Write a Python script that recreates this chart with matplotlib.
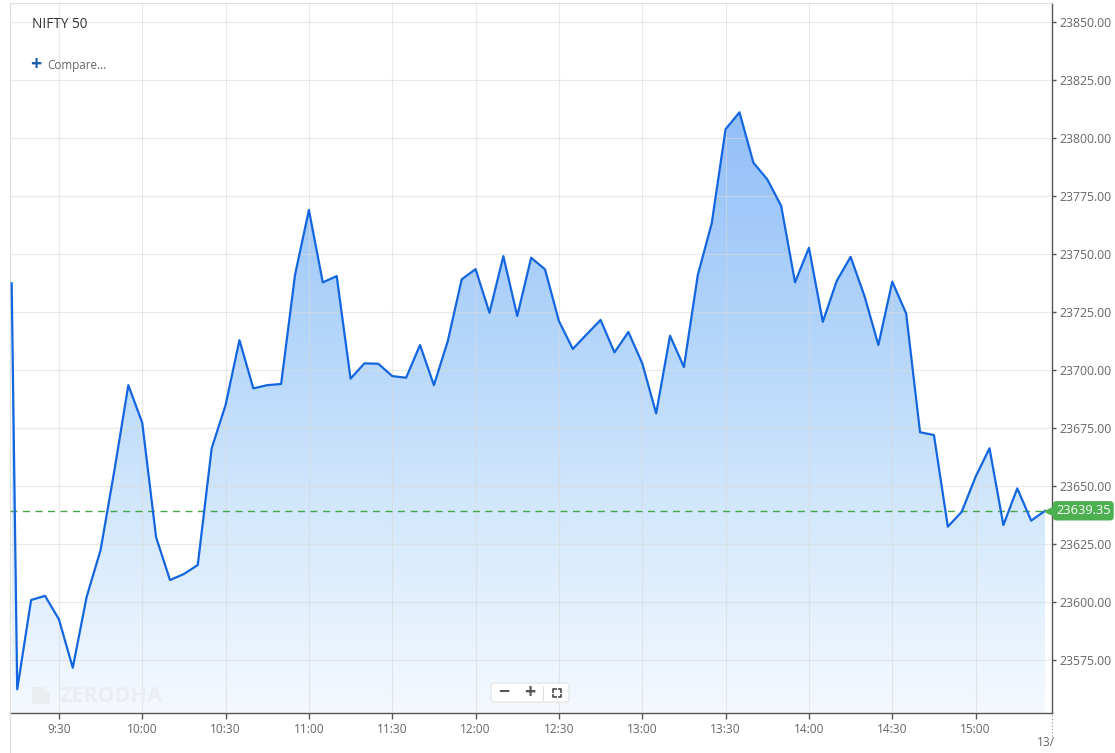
import numpy as np
import matplotlib.pyplot as plt
from matplotlib.colors import LinearSegmentedColormap
from matplotlib.patches import FancyBboxPatch, Polygon
from matplotlib.lines import Line2D
from matplotlib.transforms import blended_transform_factory

plt.rcParams['font.family'] = ['Open Sans', 'DejaVu Sans']

# 5 minute prices of NIFTY 50 (first point is the pre-open print)
times = ['9:13', '9:15', '9:20', '9:25', '9:30', '9:35', '9:40', '9:45', '9:50', '9:55',
         '10:00', '10:05', '10:10', '10:15', '10:20', '10:25', '10:30', '10:35', '10:40', '10:45',
         '10:50', '10:55', '11:00', '11:05', '11:10', '11:15', '11:20', '11:25', '11:30', '11:35',
         '11:40', '11:45', '11:50', '11:55', '12:00', '12:05', '12:10', '12:15', '12:20', '12:25',
         '12:30', '12:35', '12:40', '12:45', '12:50', '12:55', '13:00', '13:05', '13:10', '13:15',
         '13:20', '13:25', '13:30', '13:35', '13:40', '13:45', '13:50', '13:55', '14:00', '14:05',
         '14:10', '14:15', '14:20', '14:25', '14:30', '14:35', '14:40', '14:45', '14:50', '14:55',
         '15:00', '15:05', '15:10', '15:15', '15:20', '15:25']
prices = [23737.4, 23562.4, 23600.9, 23602.7, 23592.6, 23571.7, 23602.3, 23622.4, 23656.9, 23693.5,
          23677.3, 23627.9, 23609.5, 23612.1, 23616.0, 23666.3, 23684.9, 23712.9, 23692.1, 23693.5,
          23694.0, 23741.0, 23769.0, 23737.8, 23740.5, 23696.3, 23702.9, 23702.7, 23697.4, 23696.7,
          23710.8, 23693.5, 23712.5, 23739.1, 23743.5, 23724.7, 23749.1, 23723.3, 23748.4, 23743.4,
          23721.1, 23709.1, 23715.4, 23721.6, 23707.6, 23716.4, 23702.9, 23681.3, 23714.8, 23701.3,
          23741.0, 23763.2, 23803.8, 23811.1, 23789.4, 23782.2, 23770.8, 23737.8, 23752.7, 23720.8,
          23738.4, 23748.8, 23731.9, 23710.8, 23738.1, 23724.4, 23673.2, 23672.0, 23632.5, 23638.9,
          23654.0, 23666.3, 23633.2, 23649.0, 23635.1, 23639.35]
last_price = 23639.35

x_ticks = ['9:30', '10:00', '10:30', '11:00', '11:30', '12:00', '12:30',
           '13:00', '13:30', '14:00', '14:30', '15:00']
y_ticks = [23575, 23600, 23625, 23650, 23675, 23700, 23725, 23750, 23775, 23800, 23825, 23850]


def to_min(t):
    h, m = t.split(':')
    return int(h) * 60 + int(m)


x = np.array([to_min(t) for t in times])
y = np.array(prices)

W, H = 1115, 753
fig = plt.figure(figsize=(W / 100, H / 100), dpi=100)
ax = fig.add_axes([10 / W, 40 / H, 1042 / W, 710 / H])
ymin, ymax = 23552.2, 23858.2
ax.set_xlim(552.4, 927.5)
ax.set_ylim(ymin, ymax)

# gradient fill under the line
fill = ax.fill_between(x, y, ymin, color='none', lw=0)
cmap = LinearSegmentedColormap.from_list('g', ['#f5f9ff', '#d3e8fc', '#b0d3fa', '#93bff8'])
grad = np.linspace(0, 1, 256).reshape(-1, 1)
im = ax.imshow(grad, extent=[x[0], x[-1], ymin, y.max()], origin='lower',
               aspect='auto', cmap=cmap, zorder=1)
im.set_clip_path(fill.get_paths()[0], transform=ax.transData)

ax.plot(x, y, color='#1366e0', lw=1.6, zorder=4)

# last price line and tag
ax.axhline(last_price, color='#43a843', lw=1.0, ls=(0, (5, 4)), zorder=3)
bt = blended_transform_factory(ax.transAxes, ax.transData)
ax.plot([1.0], [last_price], marker='<', ms=13, color='#4caf50', mec='none',
        transform=bt, clip_on=False, zorder=5)
ax.annotate(f'{last_price:.2f}', xy=(1.0, last_price), xycoords=bt,
            xytext=(4, 0), textcoords='offset pixels', ha='left', va='center',
            color='white', fontsize=9.2, annotation_clip=False, zorder=6,
            bbox=dict(boxstyle='round,pad=0.25,rounding_size=0.3', fc='#4caf50', ec='none'))

# axes styling
ax.set_xticks([to_min(t) for t in x_ticks])
ax.set_xticklabels(x_ticks)
ax.set_yticks(y_ticks)
ax.set_yticklabels([f'{v:.2f}' for v in y_ticks])
ax.yaxis.tick_right()
ax.tick_params(axis='x', length=4, width=1, color='#555555', pad=3.5,
               labelsize=8.6, labelcolor='#666666')
ax.tick_params(axis='y', length=3, width=1, color='#555555', pad=2.5,
               labelsize=8.8, labelcolor='#666666')
ax.grid(True, color='#d9d9d9', lw=0.8, alpha=0.6)
ax.set_axisbelow(False)
for side in ['left', 'top']:
    ax.spines[side].set_color('#dddddd')
    ax.spines[side].set_linewidth(0.8)
for side in ['bottom', 'right']:
    ax.spines[side].set_color('#555555')
    ax.spines[side].set_linewidth(1.0)

# header texts
fig.text(32 / W, 1 - 24 / H, 'NIFTY 50', fontsize=9.8, color='#333333', va='center')
fig.text(36 / W, 1 - 65 / H, '+', fontsize=14, color='#1f5fb0', weight='bold',
         ha='center', va='center')
fig.text(47 / W, 1 - 65 / H, 'Compare...', fontsize=8.4, color='#666666', va='center')

# watermark
fig.text(60 / W, 1 - 696 / H, 'ZERODHA', fontsize=15.5, weight='bold', color='#ebedf0', va='center', zorder=2)
fig.patches.append(Polygon([[32 / W, 1 - 704 / H], [50 / W, 1 - 704 / H], [50 / W, 1 - 693 / H],
                            [44 / W, 1 - 687 / H], [32 / W, 1 - 687 / H]],
                           closed=True, transform=fig.transFigure, fc='#ebedf0', ec='none'))

# zoom controls
fig.patches.append(FancyBboxPatch((491 / W, 1 - 702 / H), 78 / W, 19 / H,
                                  boxstyle='round,pad=0,rounding_size=0.003',
                                  transform=fig.transFigure, fc='white', ec='#e2e2e2', lw=0.8))
fig.text(504 / W, 1 - 693 / H, '−', fontsize=14, weight='bold', color='#555555', ha='center', va='center')
fig.text(530 / W, 1 - 693 / H, '+', fontsize=14, weight='bold', color='#555555', ha='center', va='center')
fig.lines.append(Line2D([543 / W, 543 / W], [1 - 686 / H, 1 - 700 / H], transform=fig.transFigure,
                        color='#dddddd', lw=0.8))
cx, cy, r, k = 557, 693, 4, 2.5
for sx in (-1, 1):
    for sy in (-1, 1):
        px, py = cx + sx * r, cy + sy * r
        fig.lines.append(Line2D([(px - sx * k) / W, px / W, px / W],
                                [1 - py / H, 1 - py / H, 1 - (py - sy * k) / H],
                                transform=fig.transFigure, color='#555555', lw=1.3))

# date stub and tail lines at the bottom
fig.lines.append(Line2D([1052 / W, 1052 / W], [1 - 715 / H, 1 - 736 / H], transform=fig.transFigure,
                        color='#888888', lw=0.8, ls=(0, (1, 2))))
fig.lines.append(Line2D([10 / W, 10 / W], [0, 40 / H], transform=fig.transFigure,
                        color='#dddddd', lw=0.8))
fig.text(1037 / W, 1 - 742 / H, '13/', fontsize=8.6, color='#666666', va='center')

fig.savefig('out.png', dpi=100)
